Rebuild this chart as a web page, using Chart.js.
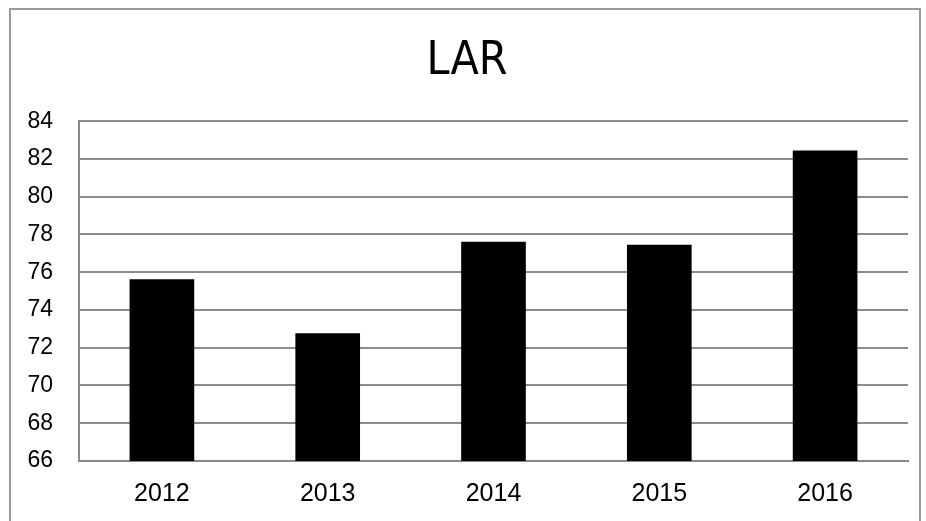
<!DOCTYPE html>
<html>
<head>
<meta charset="utf-8">
<script src="https://cdn.jsdelivr.net/npm/chart.js@4.4.1/dist/chart.umd.min.js"></script>
<style>
  html, body { margin: 0; padding: 0; background: #fff; }
  #wrap { width: 926px; height: 521px; position: relative; }
</style>
</head>
<body>
<div id="wrap"><canvas id="lar"></canvas></div>
<script>
// ---- data ----
const years  = ['2012', '2013', '2014', '2015', '2016'];
const larVal = [75.63, 72.77, 77.62, 77.46, 82.45];
const yMin = 66, yMax = 84, yStep = 2;

// outer frame of the chart object (no bottom edge visible)
const framePlugin = {
  id: 'frame',
  beforeDraw(chart) {
    const ctx = chart.ctx;
    ctx.save();
    ctx.strokeStyle = '#9a9a9a';
    ctx.lineWidth = 2;
    ctx.beginPath();
    ctx.moveTo(10, 521);
    ctx.lineTo(10, 9);
    ctx.lineTo(920, 9);
    ctx.lineTo(920, 521);
    ctx.stroke();
    ctx.restore();
  }
};

new Chart(document.getElementById('lar'), {
  type: 'bar',
  data: {
    labels: years,
    datasets: [{
      label: 'LAR',
      data: larVal,
      backgroundColor: '#000',
      borderWidth: 0,
      categoryPercentage: 1,
      barPercentage: 0.39
    }]
  },
  options: {
    responsive: true,
    maintainAspectRatio: false,
    animation: false,
    // left padding nudges the title right; y axis width keeps plot left at 79
    layout: { padding: { left: 26, right: 18, top: 0, bottom: 0 } },
    plugins: {
      legend: { display: false },
      tooltip: { enabled: false },
      title: {
        display: true,
        text: 'LAR',
        color: '#000',
        font: { family: '"Liberation Sans Narrow", "DejaVu Sans Condensed", sans-serif', size: 46, weight: 'normal', lineHeight: 1.2 },
        padding: { top: 34, bottom: 32 }
      }
    },
    scales: {
      x: {
        afterFit: s => { s.height = 60; },
        grid: { display: false, drawTicks: false },
        border: { display: true, color: '#888', width: 2 },
        ticks: {
          color: '#000',
          padding: 18,
          font: { family: '"Liberation Sans", Arial, sans-serif', size: 25 }
        }
      },
      y: {
        min: yMin,
        max: yMax,
        afterFit: s => { s.width = 53; },
        grid: { color: '#8c8c8c', lineWidth: 2, drawTicks: false },
        border: { display: true, color: '#888', width: 2 },
        ticks: {
          stepSize: yStep,
          color: '#000',
          padding: 26,
          font: { family: '"Liberation Sans", Arial, sans-serif', size: 23 }
        }
      }
    }
  },
  plugins: [framePlugin]
});
</script>
</body>
</html>
